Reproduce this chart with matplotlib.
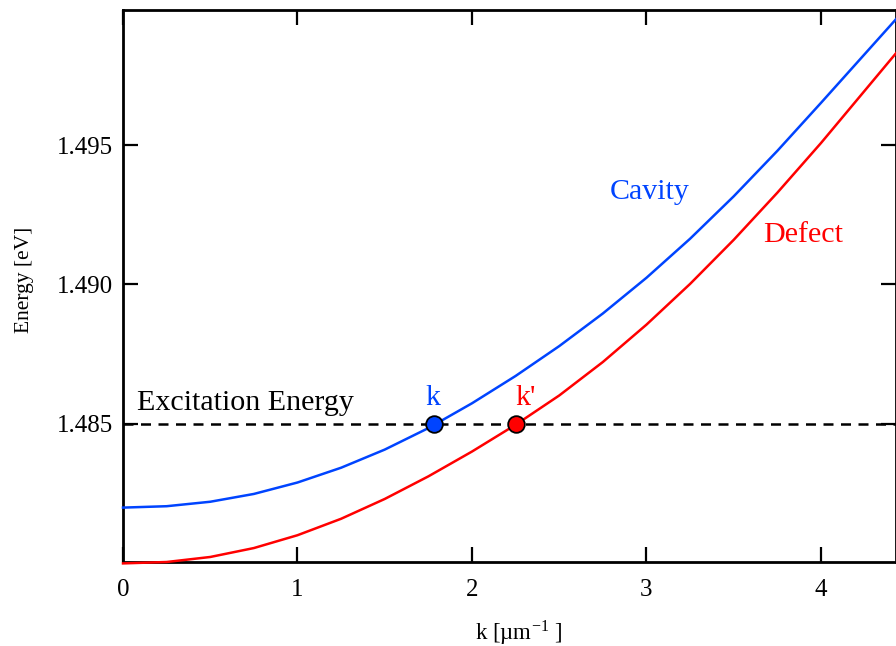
import matplotlib
matplotlib.use("Agg")
import matplotlib.pyplot as plt

# wave vector samples [1/um]
k_vals = [0.0, 0.25, 0.5, 0.75, 1.0, 1.25, 1.5, 1.75, 2.0, 2.25, 2.5, 2.75,
          3.0, 3.25, 3.5, 3.75, 4.0, 4.43]
# cavity and defect dispersion [eV]
cavity = [1.48200, 1.48205, 1.48221, 1.48249, 1.48290, 1.48343, 1.48408, 1.48485,
          1.48574, 1.48672, 1.48779, 1.48896, 1.49024, 1.49164, 1.49316, 1.49479,
          1.49651, 1.49951]
defect = [1.48000, 1.48005, 1.48023, 1.48055, 1.48101, 1.48160, 1.48231, 1.48312,
          1.48401, 1.48497, 1.48602, 1.48722, 1.48856, 1.49002, 1.49160, 1.49329,
          1.49507, 1.49829]

excitation = 1.485
k_point = 1.78
k_prime = 2.25

x_ticks = [0, 1, 2, 3, 4]
y_ticks = [1.485, 1.490, 1.495]

BLUE = "#0044ff"
RED = "#ff0000"

plt.rcParams["font.family"] = ["Liberation Serif", "DejaVu Serif"]
plt.rcParams["mathtext.fontset"] = "stix"

fig = plt.figure(figsize=(8.96, 6.46), dpi=100)
ax = fig.add_axes([123 / 896, 1 - 562 / 646, 1 - 123 / 896, (562 - 10) / 646])

ax.axhline(excitation, color="black", lw=1.8, dashes=(4, 3), zorder=2)
# curves sit on the bottom spine at k=0, so don't clip them
ax.plot(k_vals, cavity, color=BLUE, lw=1.8, zorder=3, clip_on=False)
ax.plot(k_vals, defect, color=RED, lw=1.8, zorder=3, clip_on=False)
ax.plot([k_point], [excitation], "o", ms=12, mfc=BLUE, mec="black", mew=1.3, zorder=5, clip_on=False)
ax.plot([k_prime], [excitation], "o", ms=12, mfc=RED, mec="black", mew=1.3, zorder=5, clip_on=False)

ax.text(0.08, 1.4855, "Excitation Energy", fontsize=21.6, ha="left", va="baseline")
ax.text(1.731, 1.48568, "k", fontsize=21.6, color=BLUE, ha="left", va="baseline")
ax.text(2.246, 1.48568, "k'", fontsize=21.6, color=RED, ha="left", va="baseline")
ax.text(2.787, 1.49305, "Cavity", fontsize=21.6, color=BLUE, ha="left", va="baseline")
ax.text(3.669, 1.49153, "Defect", fontsize=21.6, color=RED, ha="left", va="baseline")

ax.set_xlim(0, 4.43)
ax.set_ylim(1.48005, 1.49984)
ax.set_xticks(x_ticks)
ax.set_yticks(y_ticks)
ax.set_yticklabels(["%.3f" % v for v in y_ticks])
ax.tick_params(direction="in", length=10.8, width=1.6, labelsize=18,
               top=True, right=True)
ax.tick_params(axis="x", pad=12)
ax.tick_params(axis="y", pad=7)
for sp in ax.spines.values():
    sp.set_linewidth(2)

fig.text(519 / 896, 1 - 633 / 646, r"k [µm$^{\mathregular{-1}}$ ]", fontsize=16.5,
         ha="center", va="center")
fig.text(24 / 896, 1 - 280 / 646, "Energy [eV]", fontsize=15.5, rotation=90,
         ha="center", va="center")

fig.savefig("out.png", dpi=100)
